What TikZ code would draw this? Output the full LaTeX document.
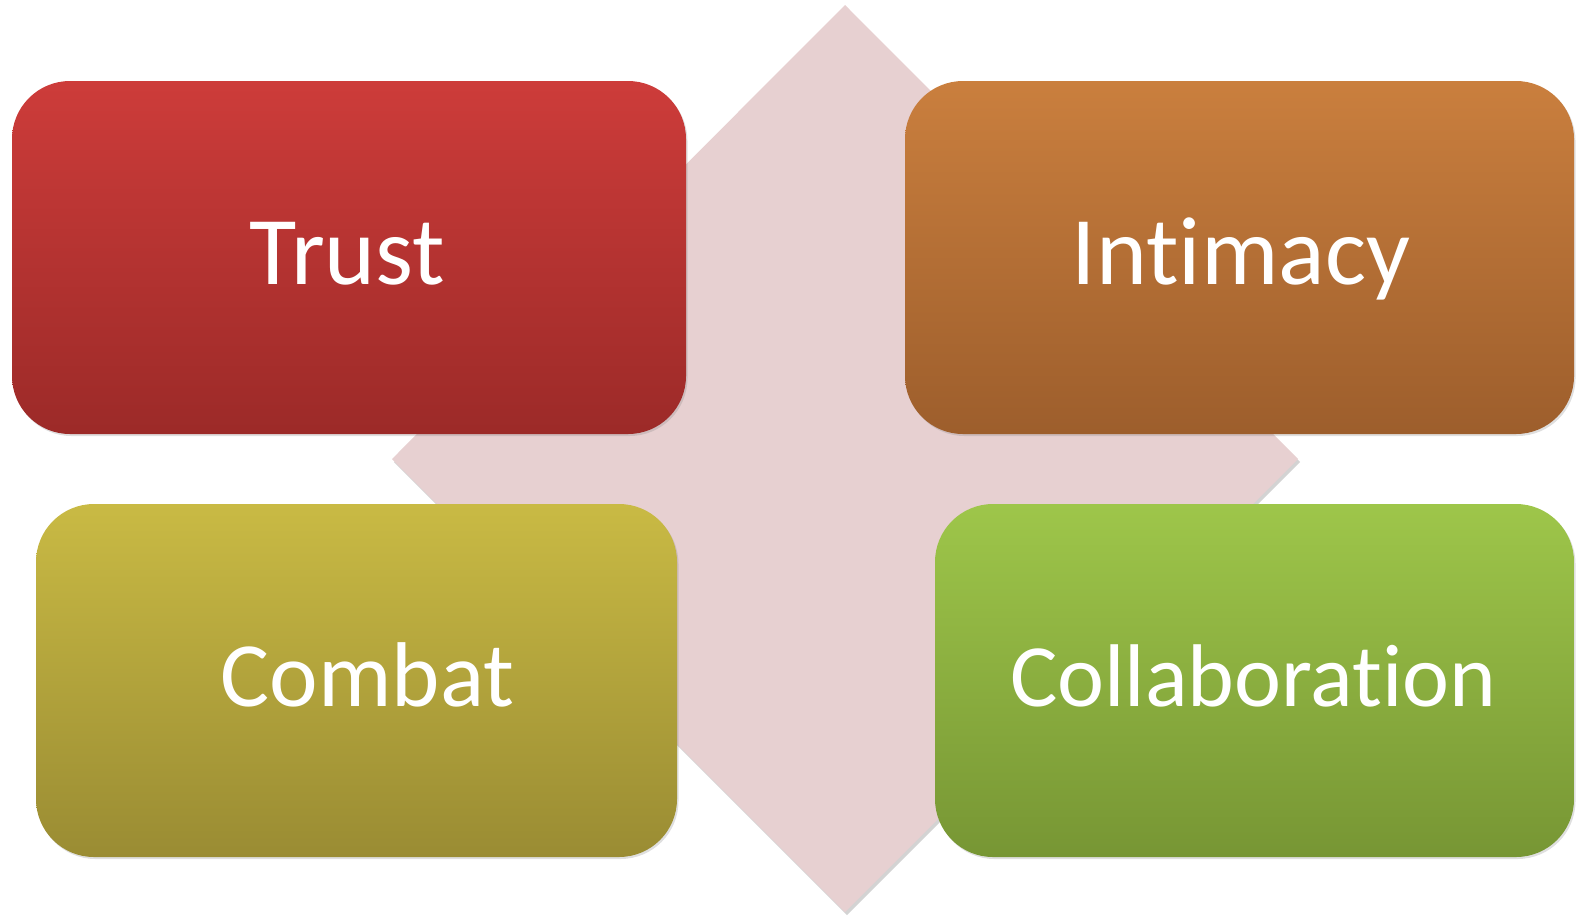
\documentclass[tikz,border=0pt]{standalone}
\usepackage{fontspec}
\setmainfont{Carlito}[Ligatures=NoCommon]
\usetikzlibrary{shadows}

\definecolor{diamondfill}{HTML}{E7D0D1}
\definecolor{trustTop}{HTML}{CD3C3A}
\definecolor{trustBot}{HTML}{9C2A28}
\definecolor{intimTop}{HTML}{CA7F3E}
\definecolor{intimBot}{HTML}{9D5E2C}
\definecolor{combTop}{HTML}{C9BA44}
\definecolor{combBot}{HTML}{9A8C33}
\definecolor{collTop}{HTML}{9EC64A}
\definecolor{collBot}{HTML}{779634}

\tikzset{
  quadbox/.style 2 args={
    rectangle, rounded corners=58pt, draw=none,
    minimum height=353pt, inner sep=0pt,
    top color=#1, bottom color=#2,
    drop shadow={opacity=0.25, shadow xshift=1.5pt, shadow yshift=-2pt}
  },
  quadlabel/.style={
    anchor=base, inner sep=0pt, text=white
  },
  labelsize/.style={font=\fontsize{#1}{1.15\dimexpr#1\relax}\selectfont}
}

\begin{document}
\begin{tikzpicture}[x=1pt, y=-1pt]
  \useasboundingbox (0,0) rectangle (1576,916);

  % central diamond behind the four boxes
  \coordinate (dTop) at (845,5);
  \coordinate (dRight) at (1298,459);
  \coordinate (dBottom) at (845,912);
  \coordinate (dLeft) at (392,459);
  \fill[diamondfill, drop shadow={opacity=0.35, shadow xshift=2pt, shadow yshift=-3pt}]
    (dTop) -- (dRight) -- (dBottom) -- (dLeft) -- cycle;

  % the four quadrant boxes
  \node[quadbox={trustTop}{trustBot}, minimum width=674pt] (trust) at (349,257.5) {};
  \node[quadbox={intimTop}{intimBot}, minimum width=669pt] (intimacy) at (1239.5,257.5) {};
  \node[quadbox={combTop}{combBot}, minimum width=641pt] (combat) at (356.5,680.5) {};
  \node[quadbox={collTop}{collBot}, minimum width=639pt] (collab) at (1254.5,680.5) {};

  % labels, set on a common baseline inside each box
  \node[quadlabel, labelsize=97pt] (trustText)
    at ([xshift=-1.5pt, yshift=-26.5pt]trust.center) {Trust};
  \node[quadlabel, labelsize=97pt] (intimacyText)
    at ([xshift=1.5pt, yshift=-26.5pt]intimacy.center) {Intimacy};
  \node[quadlabel, labelsize=92pt] (combatText)
    at ([xshift=11pt, yshift=-25.5pt]combat.center) {Combat};
  \node[quadlabel, labelsize=89pt] (collabText)
    at ([xshift=-1pt, yshift=-25.5pt]collab.center) {Collaboration};
\end{tikzpicture}
\end{document}
